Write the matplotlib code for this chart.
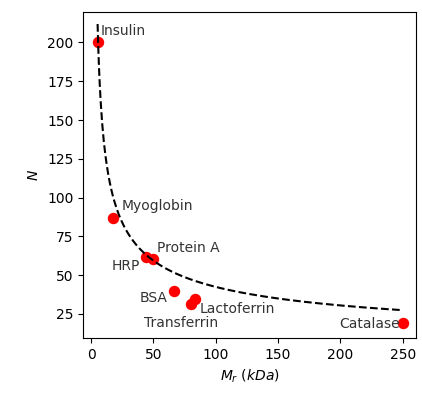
import numpy as np
import matplotlib
matplotlib.use("Agg")
import matplotlib.pyplot as plt

# protein, molecular weight (kDa), N
PROTEINS = ["Insulin", "Myoglobin", "HRP", "Protein A", "BSA",
            "Transferrin", "Lactoferrin", "Catalase"]
MR_KDA = [5.8, 17.4, 44, 50, 66.8, 79.8, 83.4, 250]
N_VALUES = [200, 87, 62, 60.5, 39.5, 31.5, 34.5, 19]

# dashed fit N = A * (Mr - X0)**B, parameters
FIT_A = 366
FIT_X0 = 2.0
FIT_B = -0.47
FIT_RANGE = (5.2, 250)

X_TICKS = [0, 50, 100, 150, 200, 250]
Y_TICKS = [25, 50, 75, 100, 125, 150, 175, 200]

# label offsets in pixels (dx, dy, ha)
LABEL_POS = {
    "Insulin": (2, 7, "left"),
    "Myoglobin": (9, 8, "left"),
    "HRP": (-6, -13, "right"),
    "Protein A": (4, 7, "left"),
    "BSA": (-7, -11, "right"),
    "Transferrin": (-47, -23, "left"),
    "Lactoferrin": (5, -14, "left"),
    "Catalase": (-3, -5, "right"),
}


def main():
    fig = plt.figure(figsize=(4.22, 3.93), dpi=100)
    ax = fig.add_axes([0.197, 0.140, 0.788, 0.829])

    ax.scatter(MR_KDA, N_VALUES, s=52, color="red", zorder=2)
    xs = np.linspace(FIT_RANGE[0], FIT_RANGE[1], 400)
    ax.plot(xs, FIT_A * (xs - FIT_X0) ** FIT_B, "k--", linewidth=1.5, zorder=3)

    for name, x, y in zip(PROTEINS, MR_KDA, N_VALUES):
        dx, dy, ha = LABEL_POS[name]
        ax.annotate(name, (x, y), xytext=(dx, dy), textcoords="offset pixels",
                    ha=ha, va="baseline", fontsize=10, color="#333333")

    ax.set_xlim(-6.4, 260.4)
    ax.set_ylim(9.5, 219.5)
    ax.set_xticks(X_TICKS)
    ax.set_yticks(Y_TICKS)
    ax.set_xlabel(r"$M_r\ (kDa)$")
    ax.set_ylabel(r"$N$")
    fig.savefig("out.png", dpi=100)
    plt.close(fig)


if __name__ == "__main__":
    main()
